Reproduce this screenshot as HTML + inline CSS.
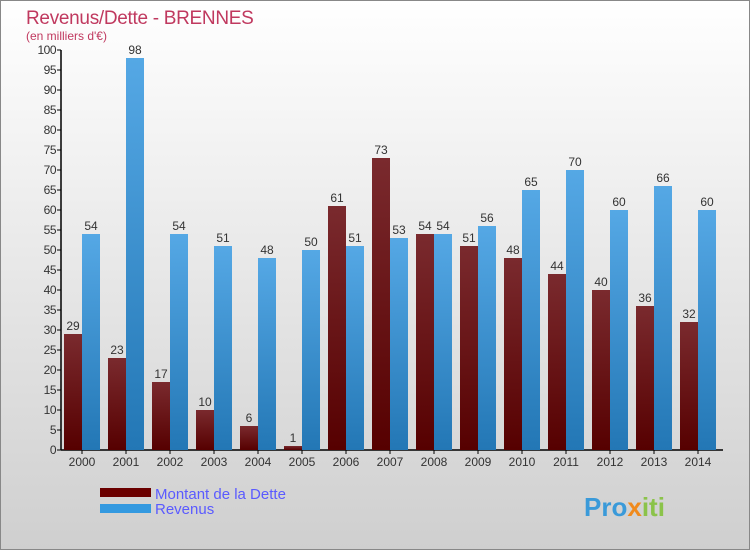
<!DOCTYPE html>
<html><head><meta charset="utf-8"><style>
body{margin:0;width:750px;height:550px;overflow:hidden;font-family:"Liberation Sans",sans-serif}
</style></head><body>
<svg width="750" height="550" xmlns="http://www.w3.org/2000/svg">
<defs>
<linearGradient id="bg" x1="0" y1="0" x2="0" y2="1"><stop offset="0" stop-color="#ffffff"/><stop offset="1" stop-color="#cfcfcf"/></linearGradient>
<linearGradient id="gd" x1="0" y1="0" x2="0" y2="1"><stop offset="0" stop-color="#7a2a2e"/><stop offset="1" stop-color="#560000"/></linearGradient>
<linearGradient id="gr" x1="0" y1="0" x2="0" y2="1"><stop offset="0" stop-color="#55a8e5"/><stop offset="1" stop-color="#2377b5"/></linearGradient>
</defs>
<rect x="0.5" y="0.5" width="749" height="549" fill="url(#bg)" stroke="#888"/>
<text x="26" y="24" font-size="19" letter-spacing="-0.3" fill="#c0395f">Revenus/Dette - BRENNES</text>
<text x="26" y="40" font-size="12" fill="#c0395f">(en milliers d'€)</text>
<g id="axes"></g>
<g id="bars"></g>
<rect x="100" y="488" width="51" height="9" fill="#6b0000"/>
<rect x="100" y="504" width="51" height="9" fill="#3399e0"/>
<text x="155" y="499" font-size="15" fill="#5a5aff">Montant de la Dette</text>
<text x="155" y="514" font-size="15" fill="#5a5aff">Revenus</text>
<text x="584" y="516" font-size="26" font-weight="bold" fill="#3a9ad9">Pro<tspan fill="#f08a1c">x</tspan><tspan fill="#8bc34a">iti</tspan></text>
</svg>
<script>
const years=["2000","2001","2002","2003","2004","2005","2006","2007","2008","2009","2010","2011","2012","2013","2014"];
const dette=[29,23,17,10,6,1,61,73,54,51,48,44,40,36,32];
const revenus=[54,98,54,51,48,50,51,53,54,56,65,70,60,66,60];
const ticks=[0,5,10,15,20,25,30,35,40,45,50,55,60,65,70,75,80,85,90,95,100];
const NS="http://www.w3.org/2000/svg";
const x0=62,pitch=44,y0=450,yTop=50,vmax=100;
const y=v=>y0-(v/vmax)*(y0-yTop);
const gx=i=>x0+i*pitch;
function mk(t,a,p){const e=document.createElementNS(NS,t);for(const k in a)e.setAttribute(k,a[k]);p.appendChild(e);return e;}
const ax=document.getElementById('axes'),bg=document.getElementById('bars');
const yl=mk('line',{x1:61,y1:yTop,x2:61,y2:y0,stroke:'#000','stroke-width':1.5},ax);


const xl=mk('line',{x1:61,y1:y0,x2:723,y2:y0,stroke:'#000','stroke-width':1.5},ax);


ticks.forEach(t=>{
 mk('line',{x1:57,y1:y(t),x2:61,y2:y(t),stroke:'#000'},ax);
 const tx=mk('text',{x:56,y:y(t)+4,'font-size':12,fill:'#333','text-anchor':'end','letter-spacing':'-0.5'},ax);tx.textContent=t;
 
 
});
years.forEach((yr,i)=>{
 const cx=gx(i)+20;
 mk('line',{x1:cx,y1:y0,x2:cx,y2:y0+4,stroke:'#000'},ax);
 const tl=mk('text',{x:cx,y:y0+16,'font-size':12,fill:'#333','text-anchor':'middle'},ax);tl.textContent=yr;
 
 
 const d=mk('rect',{x:gx(i)+2,y:y(dette[i]),width:18,height:y0-y(dette[i]),fill:'url(#gd)'},bg);
 
 
 const r=mk('rect',{x:gx(i)+20,y:y(revenus[i]),width:18,height:y0-y(revenus[i]),fill:'url(#gr)'},bg);
 
 
 const dl=mk('text',{x:gx(i)+11,y:y(dette[i])-4,'font-size':12,fill:'#333','text-anchor':'middle'},bg);dl.textContent=dette[i];
 
 
 const rl=mk('text',{x:gx(i)+29,y:y(revenus[i])-4,'font-size':12,fill:'#333','text-anchor':'middle'},bg);rl.textContent=revenus[i];
 
 
});
</script>
</body></html>
